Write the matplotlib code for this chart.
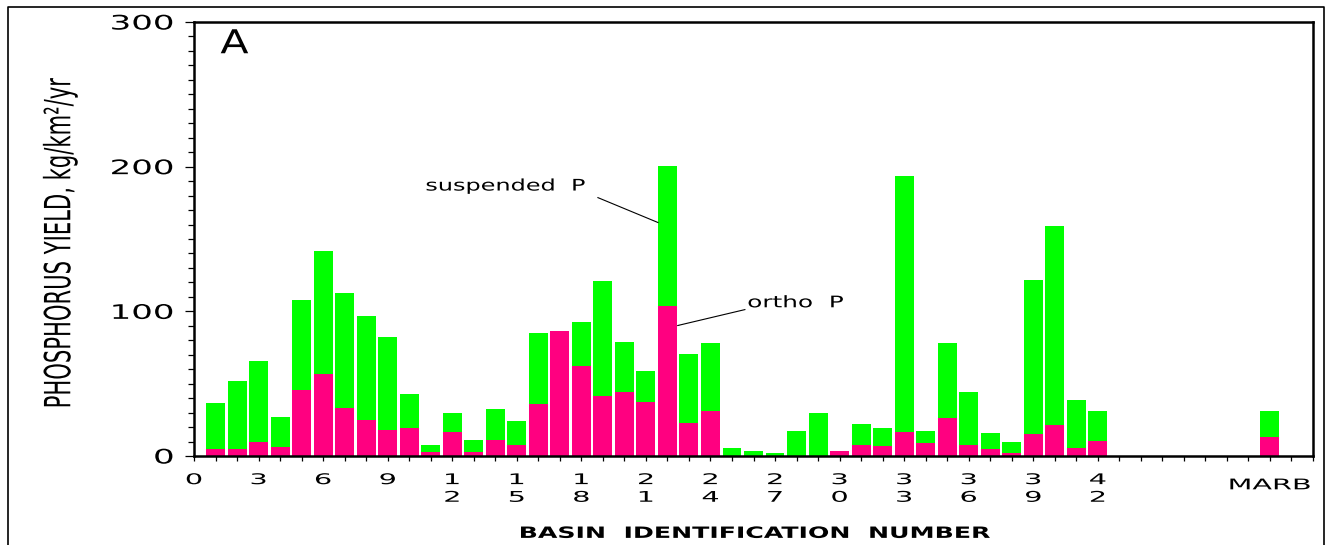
import matplotlib
matplotlib.use("Agg")
import matplotlib.pyplot as plt
from matplotlib.patheffects import AbstractPathEffect
from matplotlib.transforms import Affine2D
from matplotlib.lines import Line2D

# ---------------- data ----------------
basin_ids = [1, 2, 3, 4, 5, 6, 7, 8, 9, 10, 11, 12, 13, 14, 15, 16, 17, 18, 19, 20, 21,
             22, 23, 24, 25, 26, 27, 28, 29, 30, 31, 32, 33, 34, 35, 36, 37, 38, 39, 40, 41, 42, 50]
total_p = [36.3, 51.5, 66.0, 27.3, 107.5, 142.0, 113.0, 97.0, 82.0, 43.2, 7.9, 30.0, 11.4, 32.8,
           24.5, 85.3, 86.7, 92.9, 121.3, 79.1, 59.1, 200.7, 70.8, 78.4, 5.2, 3.8, 2.4, 17.6,
           29.4, 3.8, 21.8, 19.7, 193.8, 17.6, 78.4, 43.9, 16.2, 10.0, 122.0, 159.3, 38.4, 31.4, 31.4]
ortho_p = [4.5, 4.5, 9.5, 5.9, 45.3, 57.0, 33.5, 24.8, 18.3, 19.7, 2.6, 16.9, 2.6, 11.4,
           7.9, 35.6, 86.7, 61.9, 41.8, 43.9, 37.0, 103.5, 23.1, 31.4, 0.0, 0.0, 0.0, 0.0,
           0.0, 3.8, 7.3, 6.8, 16.9, 9.3, 26.6, 7.9, 4.5, 2.4, 15.5, 21.1, 5.2, 10.7, 12.8]
tick_numbers = [0, 3, 6, 9, 12, 15, 18, 21, 24, 27, 30, 33, 36, 39, 42]
marb_label = "MARB"
marb_pos = 50
y_ticks = [0, 100, 200, 300]

GREEN = "#00ff00"
PINK = "#ff0080"


class Stretch(AbstractPathEffect):
    """Scale glyphs along (sx) / across (sy) the text direction; text stays a Text artist."""
    def __init__(self, sx=1.0, sy=1.0, anchor="center"):
        super().__init__()
        self.sx = sx
        self.sy = sy
        self.anchor = anchor

    def draw_path(self, renderer, gc, tpath, affine, rgbFace=None):
        ext = tpath.get_extents()
        if self.anchor == "left":
            cx = ext.x0
        elif self.anchor == "right":
            cx = ext.x1
        else:
            cx = 0.5 * (ext.x0 + ext.x1)
        pre = Affine2D().translate(-cx, 0).scale(self.sx, self.sy).translate(cx, 0)
        renderer.draw_path(gc, tpath, pre + affine, rgbFace)


plt.rcParams["font.family"] = ["DejaVu Sans"]

fig = plt.figure(figsize=(13.3, 5.45), dpi=100)
ax = fig.add_axes([194 / 1330, 1 - 456 / 545, (1313 - 194) / 1330, (456 - 22) / 545])

# bars: full (total) green, ortho pink drawn over from zero
ax.bar(basin_ids, total_p, width=0.88, color=GREEN, linewidth=0, zorder=2)
ax.bar(basin_ids, ortho_p, width=0.88, color=PINK, linewidth=0, zorder=3)

ax.set_xlim(0, 52)
ax.set_ylim(0, 300)

# x ticks
xt = list(range(0, 53))
labels = []
for v in xt:
    if v in tick_numbers:
        labels.append("\n".join(str(v)))
    elif v == marb_pos:
        labels.append(marb_label)
    else:
        labels.append("")
ax.set_xticks(xt)
ax.set_xticklabels(labels, fontsize=10.6, linespacing=1.22)
ax.tick_params(axis="x", direction="out", length=5 * 0.72, width=0.9, pad=8)
for lbl in ax.get_xticklabels():
    lbl.set_path_effects([Stretch(1.95, 1.0, "center")])
    if lbl.get_text() == marb_label:
        lbl.set_y(-0.012)

# y ticks
ax.set_yticks(y_ticks)
ax.set_yticks(range(0, 301, 10), minor=True)
ax.set_yticklabels([str(v) for v in y_ticks], fontsize=14.4)
ax.tick_params(axis="y", which="major", direction="out", length=9 * 0.72, width=0.9, pad=8)
ax.tick_params(axis="y", which="minor", direction="out", length=6 * 0.72, width=0.9)
for lbl in ax.get_yticklabels():
    lbl.set_path_effects([Stretch(1.7, 1.0, "right")])

for s in ax.spines.values():
    s.set_linewidth(1.8)
    s.set_zorder(5)

# axis labels
ax.set_xlabel("BASIN  IDENTIFICATION  NUMBER", fontsize=11.2, fontweight="bold")
ax.xaxis.set_label_coords(0.5, -0.161)
ax.xaxis.label.set_path_effects([Stretch(1.62, 1.0, "center")])

ax.set_ylabel("PHOSPHORUS YIELD, kg/km\u00b2/yr", fontsize=15.2)
ax.yaxis.set_label_coords(-0.107, 0.491)
ax.yaxis.label.set_path_effects([Stretch(1.0, 26 / 15.2, "center")])

# panel letter and annotations
t = ax.text(1.88, 278.4, "A", fontsize=23.7, ha="center", va="baseline")
t.set_path_effects([Stretch(1.25, 1.0, "center")])

t = ax.text(10.77, 183.5, "suspended  P", fontsize=11.5, ha="left", va="baseline")
t.set_path_effects([Stretch(1.5, 1.0, "left")])
ax.plot([18.77, 21.56], [178.6, 161.4], color="black", lw=0.8, zorder=6)

t = ax.text(25.73, 102.8, "ortho  P", fontsize=11.5, ha="left", va="baseline")
t.set_path_effects([Stretch(1.55, 1.0, "left")])
ax.plot([25.6, 22.48], [101.2, 90.2], color="black", lw=0.8, zorder=6)

# outer frame (bottom edge falls outside the image)
fx0, fx1, fy1 = 8 / 1330, 1324 / 1330, 1 - 7 / 545
fig.add_artist(Line2D([fx0, fx0, fx1, fx1], [-0.05, fy1, fy1, -0.05],
                      transform=fig.transFigure, color="black", lw=1.2))

fig.savefig("out.png", dpi=100)
